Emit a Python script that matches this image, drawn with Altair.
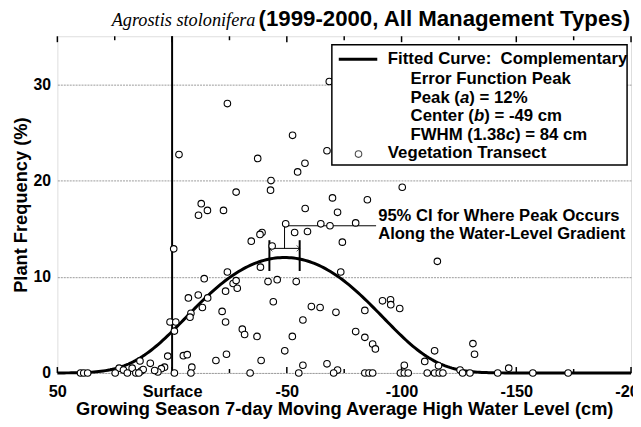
import math
import altair as alt
import pandas as pd

# ---------------- data ----------------
# vegetation transect points (x = water level cm, y = plant frequency %)
upper_x = [-24.1, -52.5, -3.0, -37.3, -57.9, -54.7, -43.1, -42.9, -27.9, -12.7,
           -15.4, -11.5, -22.4, -58.0, -49.5, -53.4, -39.2, -38.3, -34.5, -0.7,
           -43.6]
upper_y = [28.0, 24.7, 22.7, 22.3, 21.8, 20.9, 20.0, 19.0, 18.8, 17.6,
           16.9, 16.4, 16.9, 17.1, 15.5, 14.6, 14.6, 14.4, 13.7, 12.9,
           13.2]
right_x = [-68.5, -67.5, -100.3, -69.9, -85.1, -72.1, -64.8, -68.8, -80.0, -59.0,
           -74.2, -115.6, -73.5, -54.1, -91.7, -95.2, -95.3, -99.2, -60.7, -64.5,
           -71.4, -84.0, -57.0, -80.0, -84.0, -87.4, -88.6, -131.1, -131.8, -114.4,
           -110.1, -116.1, -101.2, -57.0, -67.5, -72.1, -125.5, -146.7, -52.4]
right_y = [30.3, 23.1, 19.3, 18.2, 18.0, 16.7, 15.5, 15.3, 15.6, 14.7,
           13.6, 11.6, 10.5, 9.5, 7.5, 7.6, 7.1, 6.7, 6.9, 6.8,
           6.3, 6.5, 5.5, 4.3, 3.7, 3.0, 2.5, 3.05, 1.95, 2.3,
           1.2, 0.75, 0.8, 0.8, 0.95, 0.3, 0.3, 0.5, 3.8]
left_x = [-24.1, -38.5, -14.0, -26.6, -27.9, -28.4, -23.3, -41.8, -45.8, -11.4,
          -7.1, -15.5, -13.2, -8.2, -7.8, -44.1, -21.8, -23.3, 0.9, -1.6,
          -1.0, -30.6, -31.6, -37.0, -49.1, -23.7, -19.1, -38.8, -4.9, -6.6,
          1.9, 3.3, 4.7, 6.2, -8.6, 14.0, 23.1, 21.2, 17.4, 13.5,
          12.6, 9.5, 7.6]
left_y = [10.5, 11.0, 9.8, 9.3, 9.6, 8.8, 8.5, 9.5, 9.7, 8.1,
          7.8, 7.8, 6.8, 6.2, 5.8, 7.4, 6.4, 5.3, 5.3, 5.3,
          4.35, 4.55, 4.0, 3.8, 2.3, 1.95, 1.3, 1.3, 1.8, 1.9,
          1.75, 0.6, 0.45, 0.1, 0.6, 1.25, 0.5, 0.3, 0.5, 0.2,
          0.35, 1.0, 0.25]
zero_x = [39.9, 38.5, 36.8, 24.8, 19.5, 15.8, 14.5, -1.0, -8.2, -34.0,
          -55.2, -70.4, -84.0, -85.8, -87.4, -99.5, -101.2, -102.9, -111.2, -114.4,
          -116.4, -118.0, -126.6, -129.8, -141.9, -157.2, -172.6]

# fitted complementary error function peak
peak_a = 12.0
center_b = -49.0
fwhm = 84.0
ci_low = -42.4
ci_high = -55.6

x_ticks_major = [50, 0, -50, -100, -150, -200]
x_ticks_minor = [25, -25, -75, -125, -175]
y_ticks = [0, 10, 20, 30]

# ---------------- build tables ----------------
pts = pd.DataFrame({
    "x": upper_x + right_x + left_x + zero_x,
    "y": upper_y + right_y + left_y + [0.0] * len(zero_x),
})
c_par = fwhm / 1.38
cx = [50 - i for i in range(251)]
curve = pd.DataFrame({"x": cx,
                      "y": [peak_a * math.erfc(((v - center_b) / c_par) ** 2) for v in cx]})

W, H = 581, 341
FONT = "Liberation Sans"
NB = "\u00a0"


def X(field="x"):
    return alt.X(f"{field}:Q",
                 scale=alt.Scale(domain=[-200, 50], reverse=True, nice=False, zero=False),
                 axis=alt.Axis(values=x_ticks_major,
                               labelExpr="datum.value == 0 ? 'Surface' : '' + datum.value",
                               ticks=False, domain=False, grid=False,
                               labelFont=FONT, labelFontSize=16.5, labelFontWeight="bold",
                               labelColor="black", labelPadding=11, labelFlush=False,
                               labelOverlap=False,
                               title="Growing Season 7-day Moving Average High Water Level (cm)",
                               titleFont=FONT, titleFontSize=18.5, titleFontWeight="bold",
                               titleColor="black", titlePadding=0))


def Y(field="y"):
    return alt.Y(f"{field}:Q",
                 scale=alt.Scale(domain=[0, 35], nice=False, zero=False),
                 axis=alt.Axis(values=y_ticks, ticks=False, domain=False, grid=True,
                               gridDash=[2, 1], gridColor="#9a9a9a", gridWidth=1,
                               labelFont=FONT, labelFontSize=16, labelFontWeight="bold",
                               labelColor="black", labelPadding=7,
                               title="Plant Frequency (%)",
                               titleFont=FONT, titleFontSize=18.5, titleFontWeight="bold",
                               titleColor="black", titlePadding=2))


layers = []

# vertical surface line
layers.append(alt.Chart(pd.DataFrame({"x": [0]})).mark_rule(color="black", strokeWidth=2)
              .encode(x=X()))

# ticks (inward)
for vals, ln in ((x_ticks_major, 6), (x_ticks_minor, 4)):
    d = pd.DataFrame({"x": vals})
    layers.append(alt.Chart(d).mark_rule(color="black", strokeWidth=1.5)
                  .encode(x=X(), y=alt.value(H), y2=alt.value(H - ln)))
    layers.append(alt.Chart(d).mark_rule(color="black", strokeWidth=1.5)
                  .encode(x=X(), y=alt.value(0), y2=alt.value(ln)))

# fitted curve
layers.append(alt.Chart(curve).mark_line(color="black", strokeWidth=3).encode(x=X(), y=Y()))

# CI annotation
ci_bars = pd.DataFrame({"x": [ci_low, ci_high], "y": [10.6, 10.6], "y2": [13.8, 13.8]})
layers.append(alt.Chart(ci_bars).mark_rule(color="black", strokeWidth=2)
              .encode(x=X(), y=Y(), y2="y2:Q"))
ci_arrow = pd.DataFrame({"x": [ci_low], "x2": [ci_high], "y": [12.95]})
layers.append(alt.Chart(ci_arrow).mark_rule(color="black", strokeWidth=1)
              .encode(x=X(), x2="x2:Q", y=Y()))
layers.append(alt.Chart(pd.DataFrame({"x": [ci_low], "y": [12.95]}))
              .mark_point(shape="M1,-1L0,0L1,1", size=36, color="black", strokeWidth=1, filled=False)
              .encode(x=X(), y=Y()))
layers.append(alt.Chart(pd.DataFrame({"x": [ci_high], "y": [12.95]}))
              .mark_point(shape="M-1,-1L0,0L-1,1", size=36, color="black", strokeWidth=1, filled=False)
              .encode(x=X(), y=Y()))
conn_v = pd.DataFrame({"x": [center_b], "y": [12.95], "y2": [15.3]})
layers.append(alt.Chart(conn_v).mark_rule(color="black", strokeWidth=1)
              .encode(x=X(), y=Y(), y2="y2:Q"))
conn_h = pd.DataFrame({"x": [center_b], "x2": [-88.9], "y": [15.3]})
layers.append(alt.Chart(conn_h).mark_rule(color="black", strokeWidth=1)
              .encode(x=X(), x2="x2:Q", y=Y()))
ci_text = pd.DataFrame({"x": [-89.8, -89.8], "y": [16.35, 14.45],
                        "t": ["95% CI for Where Peak Occurs", "Along the Water-Level Gradient"]})
layers.append(alt.Chart(ci_text).mark_text(align="left", baseline="middle", font=FONT,
                                           fontSize=16.8, fontWeight="bold", color="black")
              .encode(x=X(), y=Y(), text="t:N"))

# points
layers.append(alt.Chart(pts).mark_point(shape="circle", size=44, filled=True, fill="white",
                                        stroke="black", strokeWidth=1.1, opacity=1)
              .encode(x=X(), y=Y()))

# legend box
layers.append(alt.Chart(pd.DataFrame({"a": [0]})).mark_rect(fill="white", stroke="black", strokeWidth=1.5)
              .encode(x=alt.value(278), x2=alt.value(577), y=alt.value(8.7), y2=alt.value(130.3)))
layers.append(alt.Chart(pd.DataFrame({"a": [0]})).mark_rule(color="black", strokeWidth=3)
              .encode(x=alt.value(285), x2=alt.value(324), y=alt.value(23.3)))
layers.append(alt.Chart(pd.DataFrame({"a": [0]})).mark_point(shape="circle", size=44, filled=True,
                                                            fill="white", stroke="black", strokeWidth=1.1)
              .encode(x=alt.value(305), y=alt.value(119.3)))

# Arial/Liberation bold advance widths (1/1000 em) for segment placement
AW = {"P": 667, "e": 556, "a": 556, "k": 556, " ": 278, "(": 333, "C": 722, "n": 611,
      "t": 333, "r": 389, "F": 611, "W": 944, "H": 722, "M": 833, "1": 556, ".": 278,
      "3": 556, "8": 556, "b": 611, "c": 556}


def wpx(s, size):
    return sum(AW.get(ch, 556) for ch in s) * size / 1000.0


def text(txt, x, y, size=16.5, align="left", style="normal", font=FONT, weight="bold",
         baseline="middle"):
    return (alt.Chart(pd.DataFrame({"t": [txt]}))
            .mark_text(align=align, baseline=baseline, font=font, fontSize=size,
                       fontWeight=weight, fontStyle=style, color="black")
            .encode(x=alt.value(x), y=alt.value(y), text="t:N"))


LS = 17
layers.append(text("Fitted Curve:" + NB + " Complementary", 334.7, 23, LS))
layers.append(text("Error Function Peak", 357.7, 43.7, LS))
for pre, it, post, yy in (("Peak (", "a", f") = {peak_a:.0f}%", 62.7),
                          ("Center (", "b", f") = {center_b:.0f} cm", 81.3),
                          ("FWHM (1.38", "c", f") = {fwhm:.0f} cm", 100.3)):
    x0 = 357.7
    layers.append(text(pre, x0, yy, LS))
    x1 = x0 + wpx(pre, LS)
    layers.append(text(it, x1, yy, LS, style="italic"))
    x2 = x1 + wpx(it, LS)
    layers.append(text(post, x2, yy, LS))
layers.append(text("Vegetation Transect", 334.7, 118.7, LS))

# title (two fonts, common baseline)
layers.append(text("Agrostis stolonifera", 55, -10, 18.5, style="italic",
                   font="Liberation Serif", weight="normal", baseline="alphabetic"))
layers.append(text("(1999-2000, All Management Types)", 580, -10, 22.5, align="right",
                   baseline="alphabetic"))

chart = (alt.layer(*layers)
         .properties(width=W, height=H, autosize=alt.AutoSizeParams(type="none"),
                     padding={"left": 50, "top": 26, "right": 2, "bottom": 44})
         .configure_view(stroke="black", strokeWidth=1.5)
         .configure(background="white"))

chart.save("out.html", embed_options={"renderer": "svg", "actions": False})
